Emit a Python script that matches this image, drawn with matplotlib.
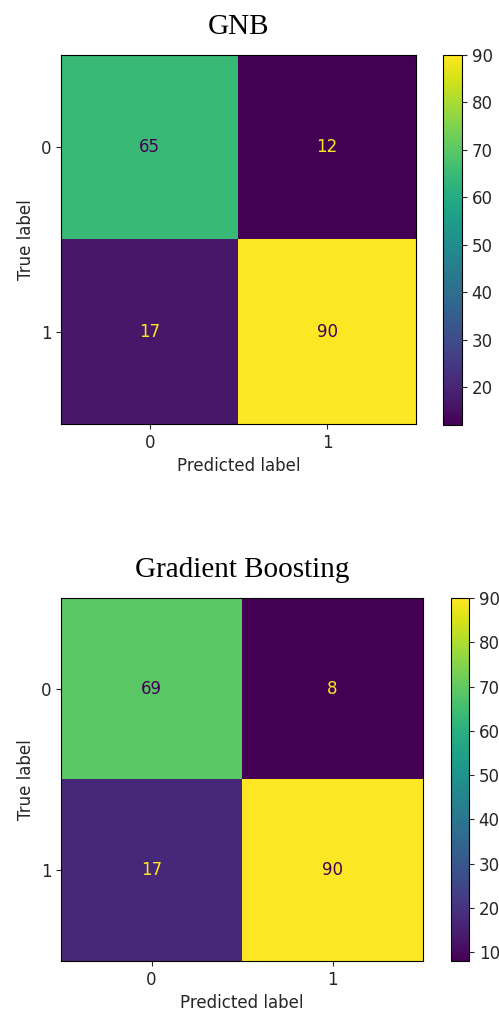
import matplotlib
matplotlib.use("Agg")
import matplotlib.pyplot as plt
import numpy as np

# confusion matrices (rows = true label, cols = predicted label)
class_labels = ["0", "1"]
gnb_title = "GNB"
gnb_matrix = [[65, 12],
              [17, 90]]
gb_title = "Gradient Boosting"
gb_matrix = [[69, 8],
             [17, 90]]

W, H = 499, 1017
plt.rcParams["font.family"] = ["DejaVu Sans"]
plt.rcParams["font.size"] = 12
plt.rcParams["text.color"] = "#262626"
plt.rcParams["xtick.color"] = "#262626"
plt.rcParams["ytick.color"] = "#262626"
plt.rcParams["axes.labelcolor"] = "#262626"

fig = plt.figure(figsize=(W / 100, H / 100), dpi=100)


def px_axes(left, top, right, bottom):
    return fig.add_axes([left / W, 1 - bottom / H, (right - left) / W, (bottom - top) / H])


def draw_matrix(ax, cax, title, matrix):
    cm = np.array(matrix)
    cmap = plt.get_cmap("viridis")
    im = ax.imshow(cm, cmap=cmap, aspect="auto", interpolation="nearest")
    lo, hi = cm.min(), cm.max()
    thresh = (lo + hi) / 2
    for i in range(cm.shape[0]):
        for j in range(cm.shape[1]):
            color = cmap(0) if cm[i, j] >= thresh else cmap(1.0)
            ax.text(j, i, str(cm[i, j]), ha="center", va="center", color=color, fontsize=12)
    ax.set_xticks(range(len(class_labels)), class_labels)
    ax.set_yticks(range(len(class_labels)), class_labels)
    ax.set_xlabel("Predicted label")
    ax.set_ylabel("True label")
    ax.set_title(title, family="Liberation Serif", fontsize=21, color="black", pad=15)
    fig.colorbar(im, cax=cax)


draw_matrix(px_axes(61, 55, 416, 424), px_axes(443, 55, 462, 425), gnb_title, gnb_matrix)
draw_matrix(px_axes(61, 598, 423, 961), px_axes(451, 598, 469, 961), gb_title, gb_matrix)

fig.savefig("out.png", dpi=100)
